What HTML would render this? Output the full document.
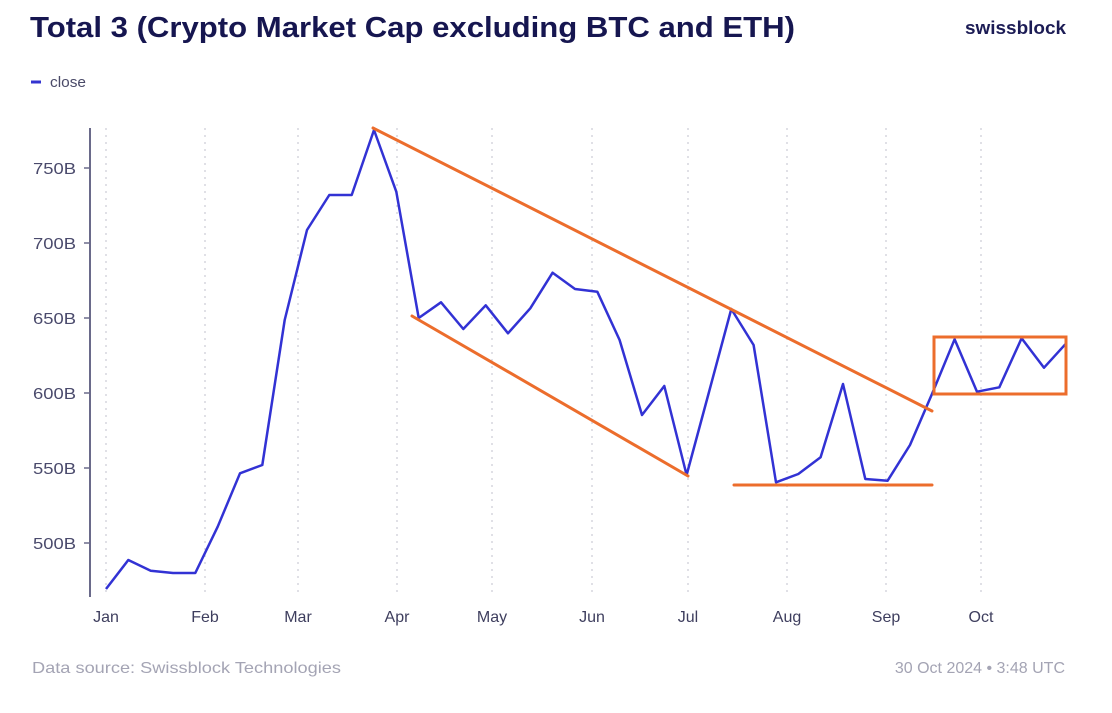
<!DOCTYPE html>
<html><head><meta charset="utf-8"><style>
html,body{margin:0;padding:0;background:#fff;}
svg{display:block;}
</style></head><body>
<svg width="1112" height="713" viewBox="0 0 1112 713" xmlns="http://www.w3.org/2000/svg">
<rect width="1112" height="713" fill="#fff"/>
<text x="30" y="37" font-family="Liberation Sans, sans-serif" font-weight="bold" font-size="29" fill="#161650" textLength="765" lengthAdjust="spacingAndGlyphs">Total 3 (Crypto Market Cap excluding BTC and ETH)</text>
<text x="965" y="34" font-family="Liberation Sans, sans-serif" font-weight="bold" font-size="18" fill="#1c1c55" textLength="101" lengthAdjust="spacingAndGlyphs">swissblock</text>
<line x1="31" y1="82" x2="41" y2="82" stroke="#3434d0" stroke-width="3"/>
<text x="50" y="87" font-family="Liberation Sans, sans-serif" font-size="15" fill="#4a4a68" textLength="36" lengthAdjust="spacingAndGlyphs">close</text>
<g stroke="#cfcfd8" stroke-width="1.3" stroke-dasharray="2,5">
<line x1="106" y1="128" x2="106" y2="597"/>
<line x1="205" y1="128" x2="205" y2="597"/>
<line x1="298" y1="128" x2="298" y2="597"/>
<line x1="397" y1="128" x2="397" y2="597"/>
<line x1="492" y1="128" x2="492" y2="597"/>
<line x1="592" y1="128" x2="592" y2="597"/>
<line x1="688" y1="128" x2="688" y2="597"/>
<line x1="787" y1="128" x2="787" y2="597"/>
<line x1="886" y1="128" x2="886" y2="597"/>
<line x1="981" y1="128" x2="981" y2="597"/>
</g>
<line x1="90" y1="128" x2="90" y2="597" stroke="#6a6a8a" stroke-width="2"/>
<g stroke="#6a6a8a" stroke-width="1.5">
<line x1="84" y1="168" x2="90" y2="168"/>
<line x1="84" y1="243" x2="90" y2="243"/>
<line x1="84" y1="318" x2="90" y2="318"/>
<line x1="84" y1="393" x2="90" y2="393"/>
<line x1="84" y1="468" x2="90" y2="468"/>
<line x1="84" y1="543" x2="90" y2="543"/>
</g>
<g font-family="Liberation Sans, sans-serif" font-size="16" fill="#4a4a6c">
<text x="33" y="174" textLength="43" lengthAdjust="spacingAndGlyphs">750B</text>
<text x="33" y="249" textLength="43" lengthAdjust="spacingAndGlyphs">700B</text>
<text x="33" y="324" textLength="43" lengthAdjust="spacingAndGlyphs">650B</text>
<text x="33" y="399" textLength="43" lengthAdjust="spacingAndGlyphs">600B</text>
<text x="33" y="474" textLength="43" lengthAdjust="spacingAndGlyphs">550B</text>
<text x="33" y="549" textLength="43" lengthAdjust="spacingAndGlyphs">500B</text>
</g>
<g font-family="Liberation Sans, sans-serif" font-size="16" fill="#3e3e5e" text-anchor="middle">
<text x="106" y="622">Jan</text>
<text x="205" y="622">Feb</text>
<text x="298" y="622">Mar</text>
<text x="397" y="622">Apr</text>
<text x="492" y="622">May</text>
<text x="592" y="622">Jun</text>
<text x="688" y="622">Jul</text>
<text x="787" y="622">Aug</text>
<text x="886" y="622">Sep</text>
<text x="981" y="622">Oct</text>
</g>
<polyline fill="none" stroke="#3232d4" stroke-width="2.5" stroke-linejoin="round" points="106,589 128.3,560 150.7,570.7 173,573 195.3,573 217.7,526.7 240,473.3 262.3,465 284.7,320 307,230 329.3,195 351.7,195 374,130 396.3,191.7 418.7,318 441,302.3 463.3,329 485.7,305.3 508,333.3 530.3,308.3 552.6,272.7 575,289 597.3,291.7 619.6,340 642,415 664.3,386 686.6,475 709,392 731.3,309 753.6,345 776,482.3 798.3,474 820.6,457.3 843,384 865.3,479 887.6,480.7 910,445 932.3,393.3 954.6,339.3 977,391.7 999.3,387.3 1021.6,338.3 1044,367.7 1066.2,343.3"/>
<g stroke="#ec6d2c" stroke-width="3" fill="none" stroke-linecap="round">
<line x1="373" y1="128" x2="932" y2="411"/>
<line x1="412" y1="316" x2="688" y2="476"/>
<line x1="734" y1="485" x2="932" y2="485"/>
<rect x="934" y="337" width="132" height="57"/>
</g>
<text x="32" y="673" font-family="Liberation Sans, sans-serif" font-size="16" fill="#a4a4b4" textLength="309" lengthAdjust="spacingAndGlyphs">Data source: Swissblock Technologies</text>
<text x="1065" y="673" font-family="Liberation Sans, sans-serif" font-size="16" fill="#a4a4b4" text-anchor="end">30 Oct 2024 • 3:48 UTC</text>
</svg>
</body></html>
